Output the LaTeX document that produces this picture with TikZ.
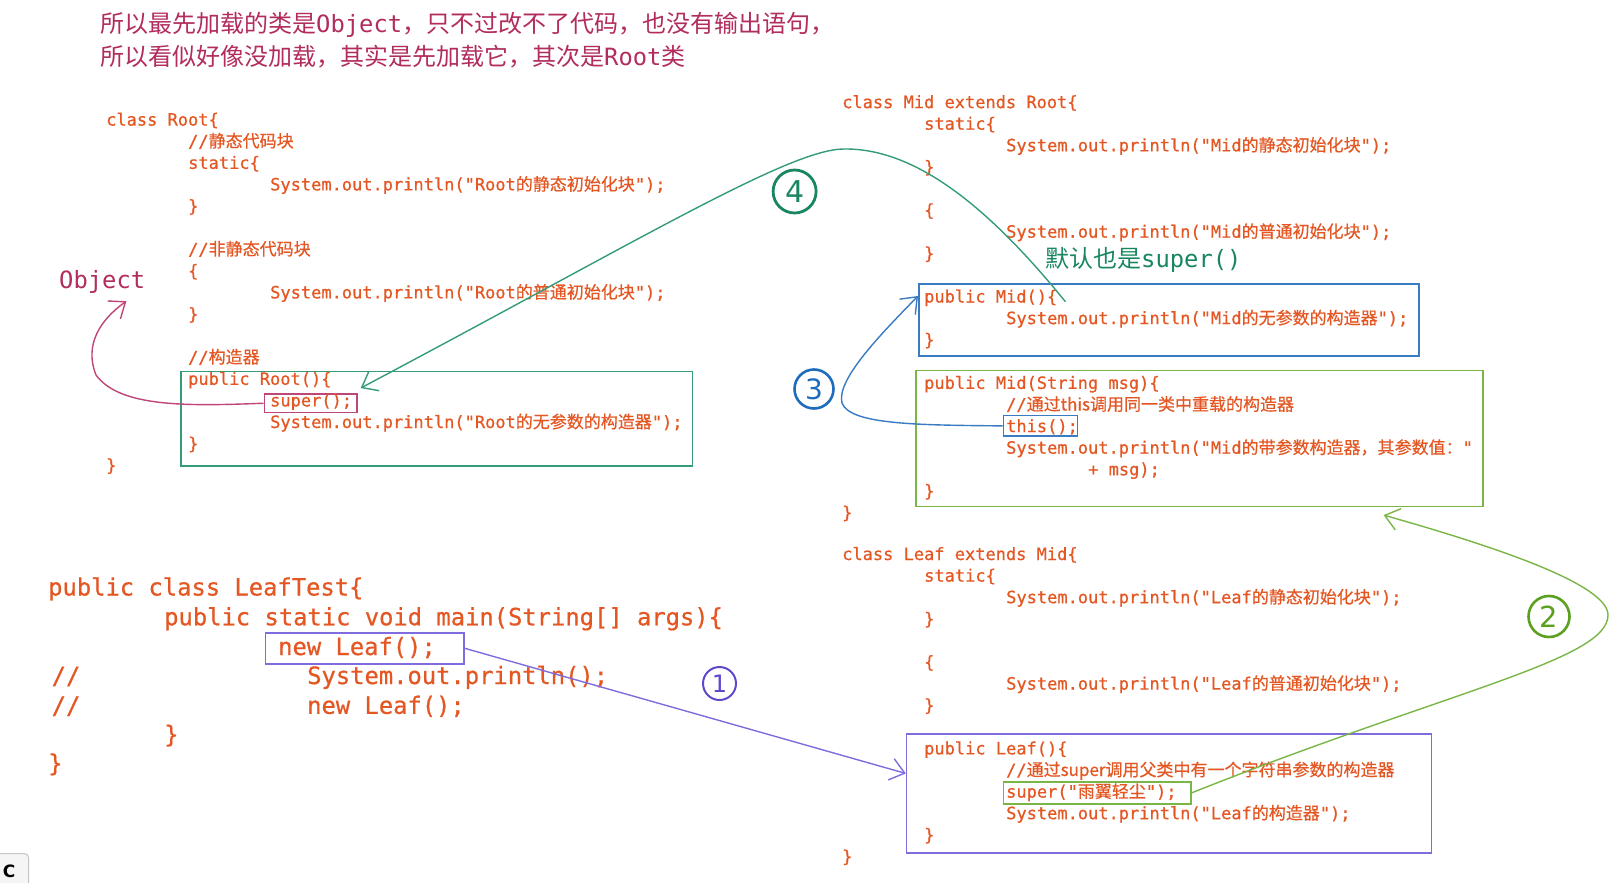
\documentclass[tikz,border=0pt]{standalone}
\usepackage{fontspec}
\setmonofont{DejaVu Sans Mono}
\newfontfamily\cj{Noto Sans CJK SC}
\newfontfamily\cmono{DejaVu Sans Mono}[FakeBold=0.6]
\newfontfamily\cjb{Noto Sans CJK SC}[FakeBold=0.5]
\newfontfamily\dv{DejaVu Sans}
\usetikzlibrary{arrows.meta,calc}

\definecolor{codeC}{RGB}{228,86,34}
\definecolor{headC}{RGB}{178,44,94}
\definecolor{tealC}{RGB}{52,156,118}
\definecolor{tealD}{RGB}{24,134,94}
\definecolor{blueC}{RGB}{58,124,194}
\definecolor{blueD}{RGB}{30,108,188}
\definecolor{purpC}{RGB}{128,108,222}
\definecolor{purpD}{RGB}{96,72,206}
\definecolor{grnC}{RGB}{122,182,70}
\definecolor{grnD}{RGB}{92,160,32}
\definecolor{crimC}{RGB}{190,70,120}

\tikzset{
 code/.style={anchor=base west, inner sep=0pt, text=codeC, font=\cmono\fontsize{17}{20}\selectfont},
 big/.style={anchor=base west, inner sep=0pt, text=codeC, font=\cmono\fontsize{23.8}{28}\selectfont},
 hbox/.style={draw=#1, line width=1.6pt, inner sep=0pt, anchor=north west},
 numc/.style={circle, draw=#1, text=#1, line width=2.4pt, inner sep=0pt},
 barb/.style={-{Straight Barb[length=14pt,width=22pt,line width=1.4pt]}},
 conn/.style={line width=1.4pt, barb},
}

\begin{document}
\begin{tikzpicture}[x=1pt,y=-1pt]
\useasboundingbox (0,0) rectangle (1614,883);
\fill[white] (0,0) rectangle (1614,883);

% ---------- boxes ----------
\node[hbox=tealC, minimum width=511.7pt, minimum height=94.5pt] (rootBox) at (180,370.5) {};
\node[hbox=crimC, minimum width=92.5pt, minimum height=18.5pt] (superBox) at (263.5,393.2) {};
\node[hbox=blueC, minimum width=500.4pt, minimum height=72pt] (midBox) at (918,283) {};
\node[hbox=grnC, minimum width=567pt, minimum height=136pt] (midStrBox) at (915,369.5) {};
\node[hbox=blueC, minimum width=74pt, minimum height=20.6pt] (thisBox) at (1002.5,414.8) {};
\node[hbox=purpC, minimum width=525pt, minimum height=119.3pt] (leafBox) at (905.8,733) {};
\node[hbox=grnC, minimum width=187.5pt, minimum height=21.7pt] (superStrBox) at (1002.5,781.2) {};
\node[hbox=purpC, minimum width=198.7pt, minimum height=31pt] (newLeafBox) at (264.5,632) {};

% ---------- header ----------
\node[anchor=base west, inner sep=0pt, text=headC, font=\cj\fontsize{24}{30}\selectfont] (h1) at (100,33)
  {所以最先加载的类是{\ttfamily\fontsize{23.8}{30}\selectfont Object}，只不过改不了代码，也没有输出语句，};
\node[anchor=base west, inner sep=0pt, text=headC, font=\cj\fontsize{24}{30}\selectfont] (h2) at (100,66)
  {所以看似好像没加载，其实是先加载它，其次是{\ttfamily\fontsize{23.8}{30}\selectfont Root}类};

\node[anchor=base west, inner sep=0pt, text=headC, font=\ttfamily\fontsize{23.8}{28}\selectfont] (obj) at (59,288) {Object};

% ---------- class Root ----------
\node[code] (r0) at (106,125.6) {class Root\{};
\node[code] (r1) at (188,147.2) {//{\cjb 静态代码块}};
\node[code] (r2) at (188,168.8) {static\{};
\node[code] (r3) at (270,190.4) {System.out.println("Root{\cjb 的静态初始化块}");};
\node[code] (r4) at (188,212) {\}};
\node[code] (r6) at (188,255.2) {//{\cjb 非静态代码块}};
\node[code] (r7) at (188,276.8) {\{};
\node[code] (r8) at (270,298.4) {System.out.println("Root{\cjb 的普通初始化块}");};
\node[code] (r9) at (188,320) {\}};
\node[code] (r11) at (188,363.2) {//{\cjb 构造器}};
\node[code] (r12) at (188,384.8) {public Root()\{};
\node[code] (r13) at (270,406.4) {super();};
\node[code] (r14) at (270,428) {System.out.println("Root{\cjb 的无参数的构造器}");};
\node[code] (r15) at (188,449.6) {\}};
\node[code] (r16) at (106,471.2) {\}};

% ---------- class Mid ----------
\node[code] (m0) at (842,108.1) {class Mid extends Root\{};
\node[code] (m1) at (924,129.7) {static\{};
\node[code] (m2) at (1006,151.3) {System.out.println("Mid{\cjb 的静态初始化块}");};
\node[code] (m3) at (924,172.9) {\}};
\node[code] (m5) at (924,216.1) {\{};
\node[code] (m6) at (1006,237.7) {System.out.println("Mid{\cjb 的普通初始化块}");};
\node[code] (m7) at (924,259.3) {\}};
\node[anchor=base west, inner sep=0pt, text=tealD, font=\fontsize{24}{28}\selectfont] (dflt) at (1045,267)
  {{\cj 默认也是}{\ttfamily\fontsize{23.8}{28}\selectfont super()}};
\node[code] (m9) at (924,302.5) {public Mid()\{};
\node[code] (m10) at (1006,324.1) {System.out.println("Mid{\cjb 的无参数的构造器}");};
\node[code] (m11) at (924,345.7) {\}};
\node[code] (m13) at (924,388.9) {public Mid(String msg)\{};
\node[code] (m14) at (1006,410.5) {//{\cjb 通过this调用同一类中重载的构造器}};
\node[code] (m15) at (1006,432.1) {this();};
\node[code] (m16) at (1006,453.7) {System.out.println("Mid{\cjb 的带参数构造器，其参数值：}"};
\node[code] (m17) at (1088,475.3) {+ msg);};
\node[code] (m18) at (924,496.9) {\}};
\node[code] (m19) at (842,518.5) {\}};

% ---------- class Leaf ----------
\node[code] (l0) at (842,560) {class Leaf extends Mid\{};
\node[code] (l1) at (924,581.6) {static\{};
\node[code] (l2) at (1006,603.2) {System.out.println("Leaf{\cjb 的静态初始化块}");};
\node[code] (l3) at (924,624.8) {\}};
\node[code] (l5) at (924,668) {\{};
\node[code] (l6) at (1006,689.6) {System.out.println("Leaf{\cjb 的普通初始化块}");};
\node[code] (l7) at (924,711.2) {\}};
\node[code] (l9) at (924,754.4) {public Leaf()\{};
\node[code] (l10) at (1006,776) {//{\cjb 通过super调用父类中有一个字符串参数的构造器}};
\node[code] (l11) at (1006,797.6) {super("{\cjb 雨翼轻尘}");};
\node[code] (l12) at (1006,819.2) {System.out.println("Leaf{\cjb 的构造器}");};
\node[code] (l13) at (924,840.8) {\}};
\node[code] (l14) at (842,862.4) {\}};

% ---------- LeafTest ----------
\node[big] (t0) at (48,595.5) {public class LeafTest\{};
\node[big] (t1) at (164,625.3) {public static void main(String[] args)\{};
\node[big] (t2) at (278,655) {new Leaf();};
\node[big] (t3a) at (51.5,684) {//};
\node[big] (t3) at (307,684) {System.out.println();};
\node[big] (t4a) at (51.5,713.8) {//};
\node[big] (t4) at (307,713.8) {new Leaf();};
\node[big] (t5) at (164,742.7) {\}};
\node[big] (t6) at (48,771.5) {\}};

% ---------- numbers ----------
\node[numc=purpD, minimum size=33pt, line width=2pt, font=\dv\fontsize{24}{24}\selectfont] (n1) at (719.5,683.5) {1};
\node[numc=grnD, minimum size=41pt, line width=2.6pt, font=\dv\fontsize{29}{29}\selectfont] (n2) at (1549,616.5) {2};
\node[numc=blueD, minimum size=39pt, line width=2.6pt, font=\dv\fontsize{28}{28}\selectfont] (n3) at (814,389) {3};
\node[numc=tealD, minimum size=43pt, line width=2.8pt, font=\dv\fontsize{30}{30}\selectfont] (n4) at (794.6,191.5) {4};

% ---------- connectors ----------
\coordinate (tip4) at ([xshift=29pt,yshift=-8pt]r12.east);
\coordinate (start4) at ([xshift=8pt,yshift=-4pt]m9.east);
\coordinate (tipObj) at ([xshift=-19pt,yshift=-8pt]obj.south east);
\coordinate (tip2) at ([xshift=-100pt,yshift=-8pt]midStrBox.south east);
\coordinate (tip3) at ([yshift=-13pt]midBox.north west);
\coordinate (tip1) at ([yshift=20pt]leafBox.west);

\draw[conn, purpC] (newLeafBox.east) -- (tip1);
\draw[conn, grnC] (superStrBox.east) .. controls (1450,690) and (1608,660) .. (1608,615)
   .. controls (1608,585) and (1500,548) .. (tip2);
\draw[conn, blueC] (thisBox.west) .. controls (920,425) and (850,425) .. (842,403)
   .. controls (836,380) and (880,335) .. (tip3);
\draw[conn, tealC] (start4) .. controls (995,215) and (920,148) .. (844,149)
   .. controls (790,149) and (640,240) .. (tip4);
\draw[conn, crimC] (superBox.west) .. controls (190,406) and (120,408) .. (96,375)
   .. controls (84,345) and (100,320) .. (tipObj);

% ---------- corner icon ----------
\node[draw=gray!45, fill=gray!8, rounded corners=4pt, anchor=north west, minimum width=32pt, minimum height=40pt,
      line width=1pt, inner sep=0pt] (icon) at (-4,853) {};
\node[inner sep=0pt, font=\dv\bfseries\fontsize{17}{17}\selectfont] (iconC) at (9,871) {C};
\end{tikzpicture}
\end{document}
